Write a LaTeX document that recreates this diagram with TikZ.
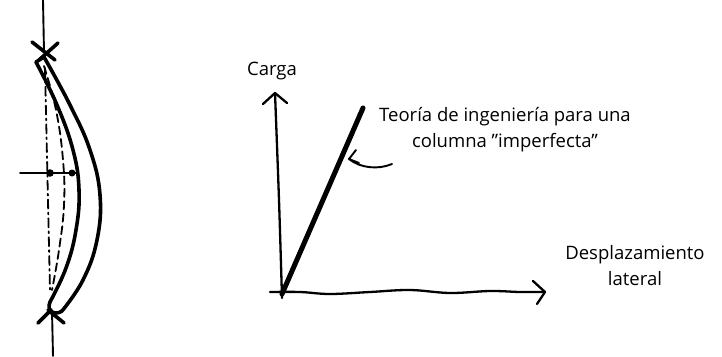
\documentclass[tikz,border=0pt]{standalone}
\usepackage{fontspec}
\setmainfont{Open Sans}
\usetikzlibrary{arrows.meta}
\begin{document}
\begin{tikzpicture}[x=1pt,y=-1pt,line cap=round,line join=round,
  heavy/.style={line width=3.6pt},
  axisline/.style={line width=2.3pt},
  thinline/.style={line width=1.9pt},
  centreline/.style={line width=1.8pt,dash pattern=on 9pt off 4pt on 1.8pt off 4pt},
  bowline/.style={line width=1.8pt,dash pattern=on 8pt off 4.5pt},
  label/.style={font=\fontsize{18.5}{26}\selectfont,inner sep=0pt,align=center}]
\useasboundingbox (0,0) rectangle (722,356);

% ---------- buckled column ----------
\coordinate (top) at (43,0);
\coordinate (topload) at (44,52);
\coordinate (bot) at (53,356);
\coordinate (botload) at (52,311);
\draw[thinline] (top) -- (topload);
\draw[thinline] (bot) -- (botload);
% load marks at the ends
\draw[heavy] (32,42) -- (55,60);
\draw[heavy] (58,43) -- (39,60);
\draw[heavy] (38,323) -- (51,310);
\draw[heavy] (48,310) -- (64,323);

% straight reference axis and initial imperfect shape
\draw[centreline] (45,68) -- (50,290);
\draw[bowline] plot[smooth,tension=0.7] coordinates {(44,66) (56,110) (63,160) (64,205) (59,250) (52,290)};

% deflected column (two faces)
\draw[heavy] plot[smooth,tension=0.7] coordinates {(44,57) (70,105) (90,150) (100,195) (97,240) (83,280) (62,311)};
\draw[heavy] plot[smooth,tension=0.7] coordinates {(36,62) (57,105) (73,150) (79,190) (76,230) (66,268) (50,302)};
\draw[heavy] (36,62) -- (44,57);
\draw[heavy] (50,302) .. controls (46,311) and (55,316) .. (62,311);

% deflection measure
\coordinate (mL) at (20,173);
\coordinate (mR) at (77,173);
\draw[thinline] (mL) -- (mR);
\fill (50,173) circle (3.8pt);
\fill (72,173) circle (3.5pt);

% ---------- load / displacement graph ----------
\coordinate (O) at (282,294);
\coordinate (ytip) at (275,93);
\coordinate (xtip) at (545,292);
\draw[axisline] plot[smooth] coordinates {(282,298) (279,200) (ytip)};
\draw[axisline] (263,104) -- (ytip) -- (287,103);
\draw[axisline] plot[smooth,tension=0.6] coordinates {(270,292) (300,292) (330,294) (370,292) (410,290) (450,293) (490,291) (520,292) (xtip)};
\draw[axisline] (533,281) -- (xtip) -- (537,304);

% engineering-theory curve
\coordinate (lineTop) at (363,108);
\draw[line width=5pt] (O) -- (lineTop);

\node[label,anchor=base] (carga) at (272,75) {Carga};
\node[label,anchor=base] (despl) at (635,285) {Desplazamiento\\lateral};
\node[label,anchor=base] (teoria) at (505,147) {Teoría de ingeniería para una\\columna "imperfecta"};

% pointer to the curve
\coordinate (ptail) at (392,164);
\coordinate (ptip) at (349,159);
\draw[thinline] (ptail) .. controls (378,170) and (360,168) .. (ptip);
\draw[thinline] (356,150) -- (ptip) -- (359,163);
\end{tikzpicture}
\end{document}
